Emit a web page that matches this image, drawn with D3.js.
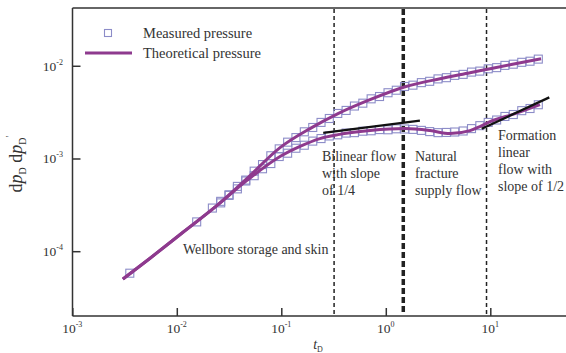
<!DOCTYPE html>
<html><head><meta charset="utf-8">
<script src="https://cdn.jsdelivr.net/npm/d3@7"></script>
<style>
html,body{margin:0;padding:0;background:#fff;}
svg text{font-family:"Liberation Serif","DejaVu Serif",serif;fill:#333;}
</style></head>
<body><svg id="c" width="566" height="353"></svg>
<script>
// ---- data ----
const xTicks = [1e-3, 1e-2, 1e-1, 1e0, 1e1];
const xTickExp = ["-3", "-2", "-1", "0", "1"];
const yTicks = [1e-4, 1e-3, 1e-2];
const yTickExp = ["-4", "-3", "-2"];

// measured pressure (upper branch)
const measT = [0.00355,0.0155,0.0219,0.0263,0.0316,0.0380,0.0457,0.0550,0.0661,0.0794,0.0955,0.115,0.138,0.166,0.200,0.240,0.288,0.347,0.417,0.501,0.603,0.724,0.871,1.05,1.26,1.51,1.82,2.19,2.63,3.16,3.80,4.57,5.50,6.61,7.94,9.55,11.5,13.8,16.6,20.0,24.0,28.8];
const measP = [5.79e-5,2.07e-4,2.92e-4,3.45e-4,4.0e-4,5.0e-4,5.85e-4,7.3e-4,8.6e-4,1.07e-3,1.27e-3,1.50e-3,1.68e-3,1.94e-3,2.16e-3,2.45e-3,2.70e-3,3.06e-3,3.30e-3,3.68e-3,3.95e-3,4.40e-3,4.66e-3,5.12e-3,5.45e-3,5.98e-3,6.18e-3,6.58e-3,6.80e-3,7.22e-3,7.44e-3,7.88e-3,8.08e-3,8.55e-3,8.76e-3,9.28e-3,9.55e-3,1.01e-2,1.04e-2,1.09e-2,1.12e-2,1.18e-2];
// measured pressure derivative (lower branch)
const measDT = [0.0263,0.0316,0.0380,0.0457,0.0550,0.0661,0.0794,0.0955,0.115,0.138,0.166,0.200,0.240,0.288,0.347,0.417,0.501,0.603,0.724,0.871,1.05,1.26,1.51,1.82,2.19,2.63,3.16,3.80,4.57,5.50,6.61,7.94,9.55,11.5,13.8,16.6,20.0,24.0,28.8];
const measD = [3.32e-4,4.06e-4,4.70e-4,5.72e-4,6.52e-4,7.75e-4,8.82e-4,1.05e-3,1.14e-3,1.29e-3,1.39e-3,1.54e-3,1.64e-3,1.75e-3,1.80e-3,1.88e-3,1.90e-3,1.97e-3,1.99e-3,2.05e-3,2.04e-3,2.09e-3,2.08e-3,2.06e-3,2.01e-3,1.95e-3,1.90e-3,1.91e-3,1.93e-3,1.98e-3,2.10e-3,2.26e-3,2.45e-3,2.60e-3,2.84e-3,2.98e-3,3.28e-3,3.46e-3,3.80e-3];

// theoretical curves
const theoPT = [0.00305,0.00555,0.01146,0.0243,0.0470,0.0973,0.188,0.349,0.706,1.53,3.30,6.40,9.95,17.3,30.6];
const theoP  = [5.0e-5,8.4e-5,1.60e-4,3.12e-4,6.10e-4,1.31e-3,2.10e-3,3.05e-3,4.31e-3,5.94e-3,7.25e-3,8.41e-3,9.29e-3,1.05e-2,1.19e-2];
const theoDT = [0.00305,0.00555,0.01146,0.0243,0.0470,0.0973,0.151,0.234,0.349,0.706,1.53,2.65,4.11,6.40,7.96,9.95,17.3,29.9];
const theoD  = [5.0e-5,8.4e-5,1.60e-4,3.12e-4,5.80e-4,1.05e-3,1.35e-3,1.64e-3,1.81e-3,2.00e-3,2.10e-3,2.00e-3,1.86e-3,2.00e-3,2.21e-3,2.50e-3,3.05e-3,3.81e-3];

// slope lines
const slopeQuarterT = [0.252, 2.12];
const slopeQuarterV = [1.89e-3, 2.56e-3];
const slopeHalfT = [8.27, 36.7];
const slopeHalfV = [2.09e-3, 4.56e-3];

// flow-regime boundaries
const boundaryT = [0.32, 1.47, 9.2];
const boundaryHeavy = [false, true, false];

// ---- drawing ----
const svg = d3.select("#c");
const L = 72.5, T = 8, B = 316;
const x = d3.scaleLog().domain([1e-3, 1e2]).range([72.3, 594.8]);
const y = d3.scaleLog().domain([2e-5, 4.2e-2]).range([B, T]);

// frame
svg.append("line").attr("x1", L).attr("x2", 566).attr("y1", T).attr("y2", T)
  .attr("stroke", "#333").attr("stroke-width", 1.5);

// boundaries
boundaryT.forEach((t, i) => {
  svg.append("line").attr("x1", x(t)).attr("x2", x(t)).attr("y1", T + 1).attr("y2", B - 2)
    .attr("stroke", "#222")
    .attr("stroke-width", boundaryHeavy[i] ? 3.5 : 1.5)
    .attr("stroke-dasharray", boundaryHeavy[i] ? "6,3" : "4,3");
});

// axes
const xAxis = svg.append("g").attr("transform", `translate(0,${B})`)
  .call(d3.axisBottom(x).tickValues(xTicks).tickSize(-8).tickFormat(""));
xAxis.select(".domain").attr("stroke", "#333").attr("stroke-width", 1.5).attr("d", `M${L},0H566`);
xAxis.selectAll(".tick line").attr("stroke", "#333").attr("stroke-width", 1.5);

const yAxis = svg.append("g").attr("transform", `translate(${L},0)`)
  .call(d3.axisLeft(y).tickValues(yTicks).tickSize(-8).tickFormat(""));
yAxis.select(".domain").attr("stroke", "#333").attr("stroke-width", 1.5).attr("d", `M0,${T}V${B}`);
yAxis.selectAll(".tick line").attr("stroke", "#333").attr("stroke-width", 1.5);

// tick labels
xTicks.forEach((v, i) => {
  const t = svg.append("text").attr("x", x(v)).attr("y", 333).attr("text-anchor", "middle")
    .attr("font-size", 13.5);
  t.append("tspan").text("10");
  t.append("tspan").attr("dy", -6).attr("font-size", 8).text(xTickExp[i]);
});
yTicks.forEach((v, i) => {
  const t = svg.append("text").attr("x", 63).attr("y", y(v) + 5).attr("text-anchor", "end")
    .attr("font-size", 13.5);
  t.append("tspan").text("10");
  t.append("tspan").attr("dy", -6).attr("font-size", 8).text(yTickExp[i]);
});

// axis titles
const xt = svg.append("text").attr("x", 318).attr("y", 349).attr("text-anchor", "middle").attr("font-size", 14);
xt.append("tspan").attr("font-style", "italic").text("t");
xt.append("tspan").attr("dy", 3).attr("font-size", 8).text("D");

const yt = svg.append("text").attr("transform", "translate(22,164) rotate(-90)")
  .attr("text-anchor", "middle").attr("font-size", 18);
yt.append("tspan").text("d");
yt.append("tspan").attr("font-style", "italic").text("p");
yt.append("tspan").attr("dy", 4).attr("font-size", 10).text("D");
yt.append("tspan").attr("dy", -4).text(" d");
yt.append("tspan").attr("font-style", "italic").text("p");
yt.append("tspan").attr("dy", 4).attr("font-size", 10).text("D");
yt.append("tspan").attr("dy", -13).attr("font-size", 10).text("'");

// measured squares
const sq = 8;
const sqColor = "#8c8cc8";
function squares(ts, vs) {
  svg.append("g").selectAll("rect").data(ts.map((t, i) => [t, vs[i]])).join("rect")
    .attr("x", d => x(d[0]) - sq / 2).attr("y", d => y(d[1]) - sq / 2)
    .attr("width", sq).attr("height", sq)
    .attr("fill", "none").attr("stroke", sqColor).attr("stroke-width", 1.1);
}
squares(measT, measP);
squares(measDT, measD);

// theoretical curves
const line = d3.line().x(d => x(d[0])).y(d => y(d[1])).curve(d3.curveMonotoneX);
const curveColor = "#8e3a8e";
[[theoPT, theoP], [theoDT, theoD]].forEach(([ts, vs]) => {
  svg.append("path").attr("d", line(ts.map((t, i) => [t, vs[i]])))
    .attr("fill", "none").attr("stroke", curveColor).attr("stroke-width", 3);
});

// slope lines
[[slopeQuarterT, slopeQuarterV], [slopeHalfT, slopeHalfV]].forEach(([ts, vs]) => {
  svg.append("line").attr("x1", x(ts[0])).attr("y1", y(vs[0])).attr("x2", x(ts[1])).attr("y2", y(vs[1]))
    .attr("stroke", "#111").attr("stroke-width", 2.3);
});

// annotations
function multiline(lines, px, py0, lh) {
  lines.forEach((s, i) => {
    svg.append("text").attr("x", px).attr("y", py0 + i * lh).attr("font-size", 14).text(s);
  });
}
multiline(["Wellbore storage and skin"], 183, 254, 17);
multiline(["Bilinear flow", "with slope", "of 1/4"], 322, 161, 17);
multiline(["Natural", "fracture", "supply flow"], 415, 161, 17);
multiline(["Formation", "linear", "flow with", "slope of 1/2"], 498, 140, 17);

// legend
svg.append("rect").attr("x", 104.5).attr("y", 29.5).attr("width", 7).attr("height", 7)
  .attr("fill", "none").attr("stroke", sqColor).attr("stroke-width", 1.1);
svg.append("text").attr("x", 143).attr("y", 38).attr("font-size", 14.5).text("Measured pressure");
svg.append("line").attr("x1", 85).attr("x2", 132).attr("y1", 53).attr("y2", 53)
  .attr("stroke", curveColor).attr("stroke-width", 3);
svg.append("text").attr("x", 143).attr("y", 58).attr("font-size", 14.5).text("Theoretical pressure");
</script></body></html>
